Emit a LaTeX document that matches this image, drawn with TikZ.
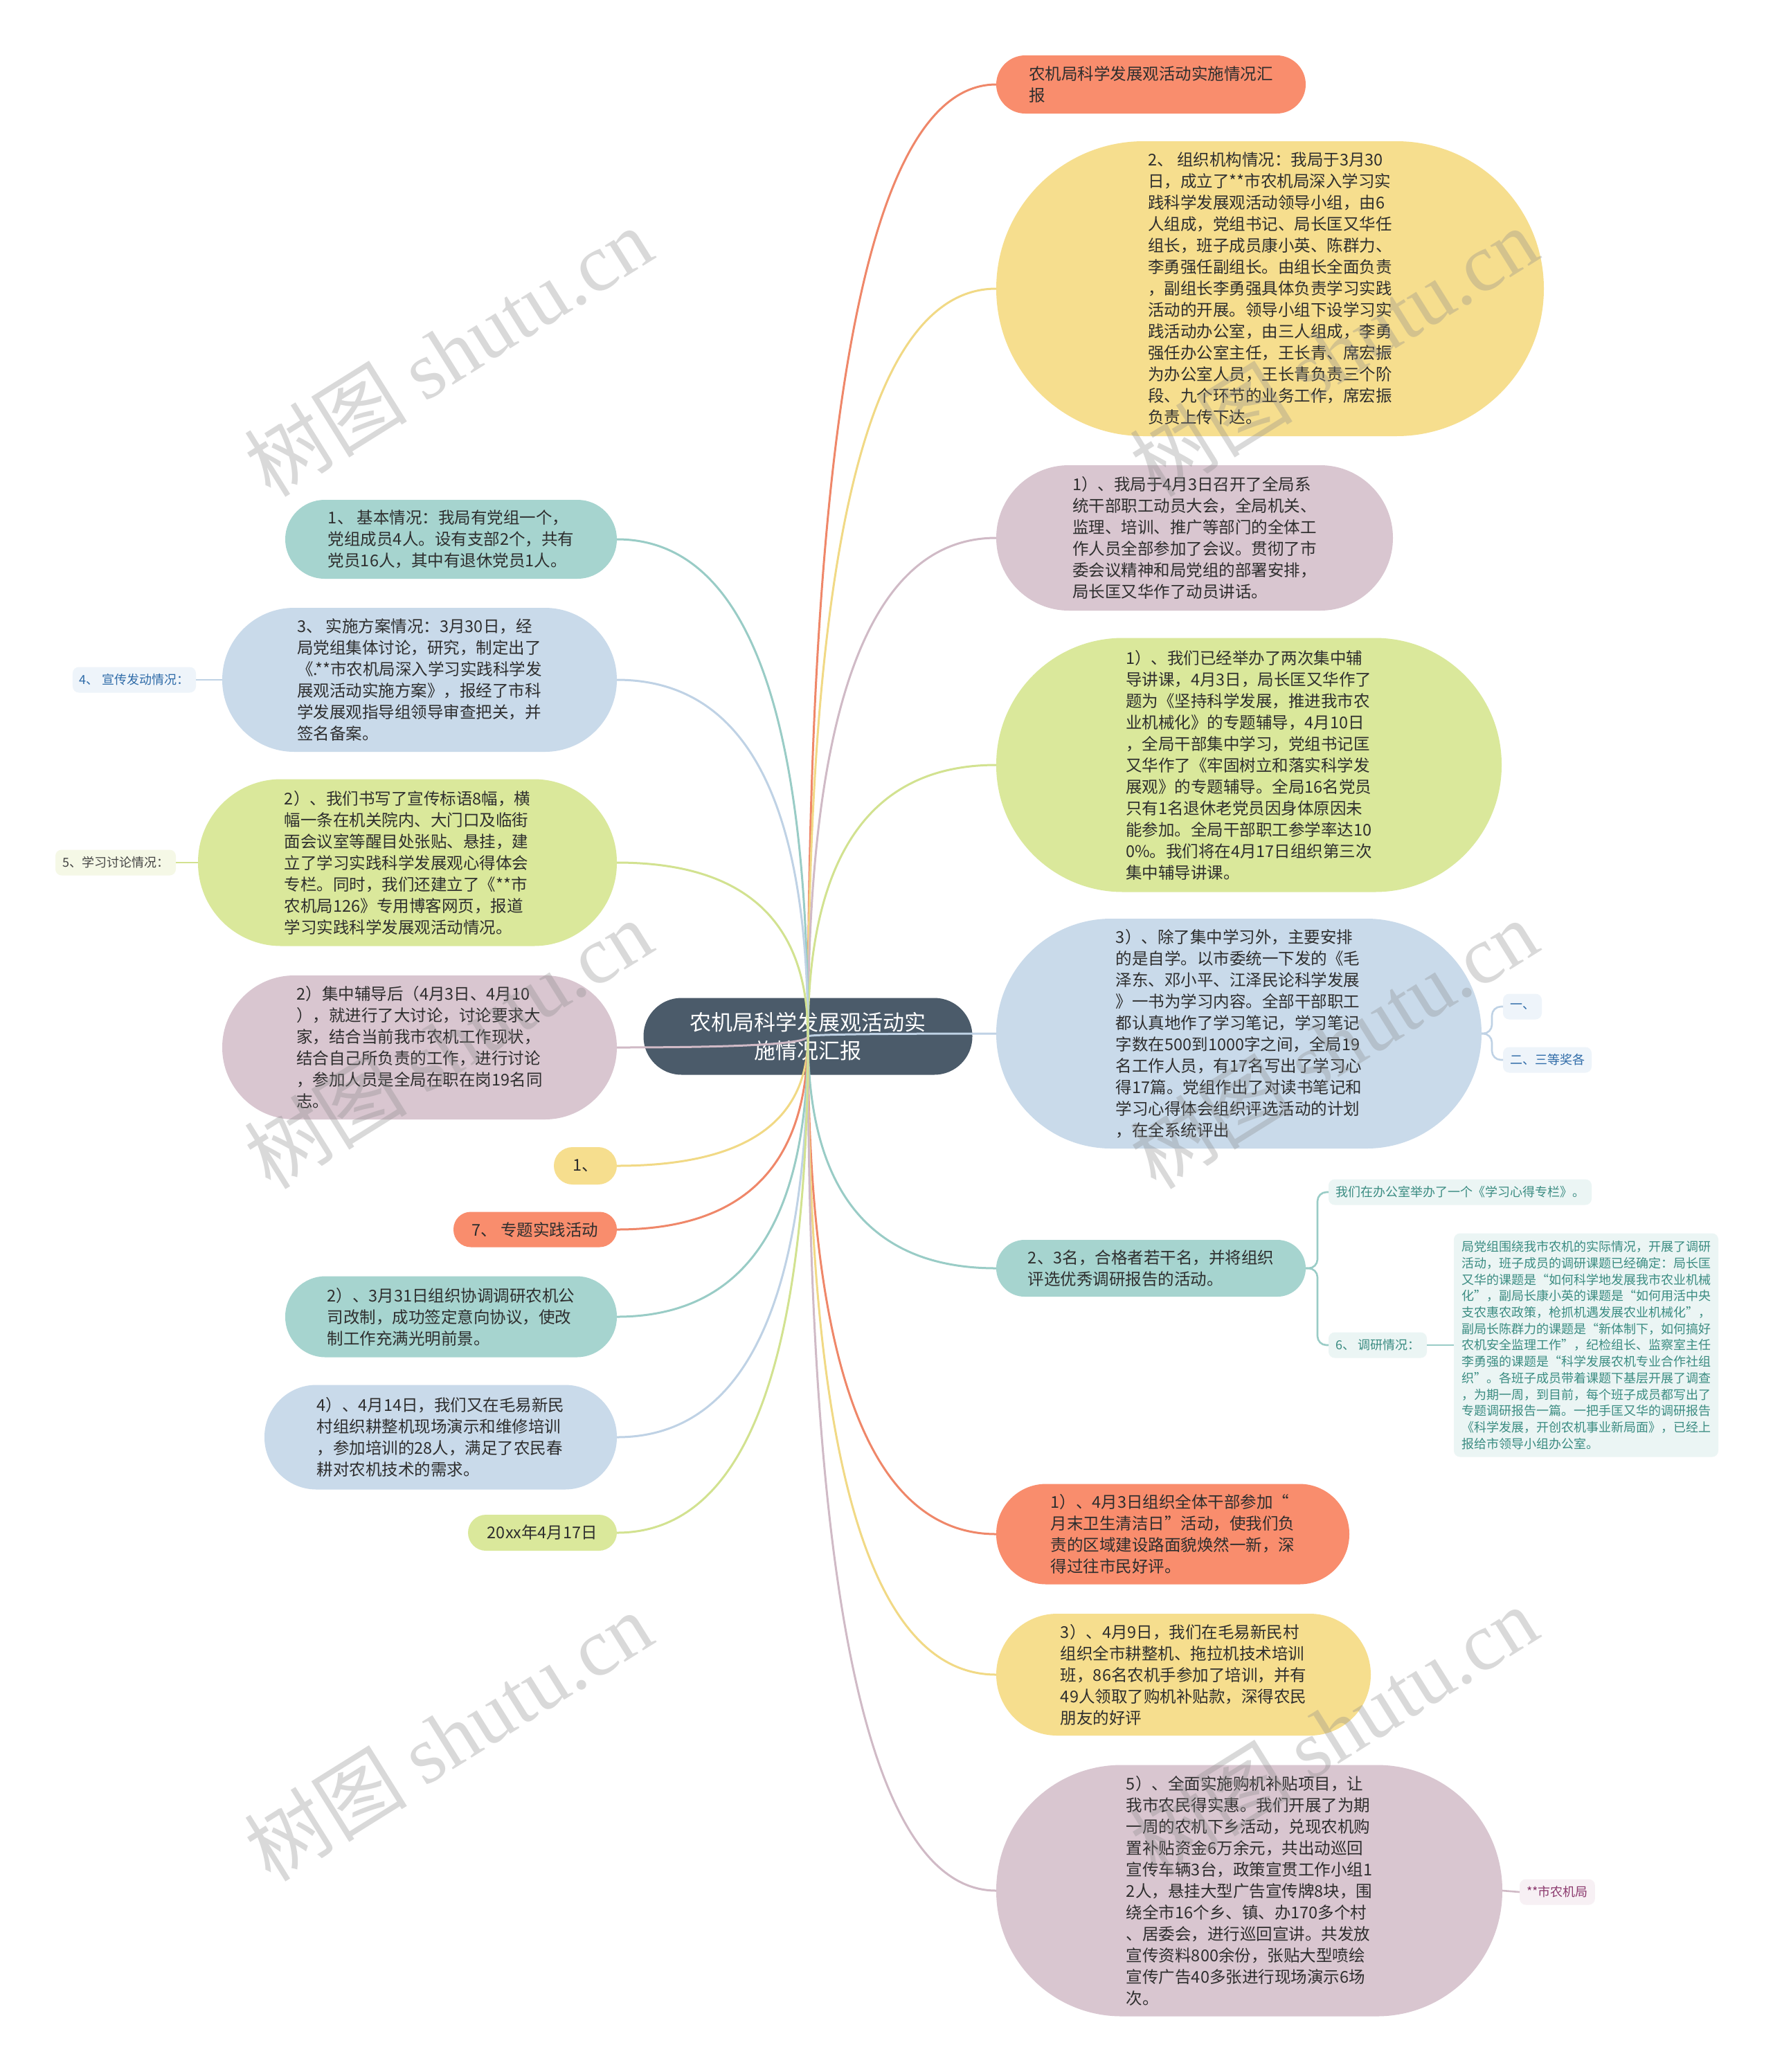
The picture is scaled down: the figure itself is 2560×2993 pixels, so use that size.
\documentclass[tikz,border=0pt]{standalone}
\usepackage{fontspec}
\setmainfont{Noto Sans CJK SC}
\newfontfamily\wmlatin{Liberation Serif}
\usetikzlibrary{calc}

\definecolor{rootc}{HTML}{4B5B6A}
\definecolor{coral}{HTML}{F98D6D}
\definecolor{coralL}{HTML}{EF8769}
\definecolor{yel}{HTML}{F6DE8E}
\definecolor{yelL}{HTML}{F1D985}
\definecolor{mauve}{HTML}{D9C6D0}
\definecolor{mauveL}{HTML}{D0BAC6}
\definecolor{grn}{HTML}{DAE89B}
\definecolor{grnL}{HTML}{D2E290}
\definecolor{blu}{HTML}{C9DAEA}
\definecolor{bluL}{HTML}{BFD2E5}
\definecolor{tealc}{HTML}{A6D4CF}
\definecolor{tealL}{HTML}{99CCC6}
\definecolor{txt}{HTML}{2E2E2E}
\definecolor{bluF}{HTML}{EEF4FA}
\definecolor{bluT}{HTML}{2F6BA8}
\definecolor{tealF}{HTML}{EBF5F4}
\definecolor{tealT}{HTML}{3B8C82}
\definecolor{mauveF}{HTML}{F7F0F4}
\definecolor{mauveT}{HTML}{8C3A6E}
\definecolor{grnF}{HTML}{F5F8E6}
\definecolor{grnT}{HTML}{444444}

\tikzset{
  every node/.style={inner sep=0pt, outer sep=0pt},
  pill/.style={rectangle, align=left, text=txt, font=\fontsize{23.5}{31}\selectfont},
  leaf/.style={rectangle, rounded corners=9, inner xsep=10, minimum height=37, align=left, font=\fontsize{18}{24}\selectfont},
  conn/.style={line width=3},
  subconn/.style={line width=2.6, rounded corners=13},
  wm/.style={font=\fontsize{118}{118}\selectfont, text=black!45, text opacity=0.33, rotate=32},
}

\newcommand\rconn[2]{\draw[conn,#2] (root.center) .. controls ($(root.center)!0.667!(root.center|-#1.west)$) and ($(#1.west)!0.667!(root.center|-#1.west)$) .. (#1.west);}
\newcommand\lconn[2]{\draw[conn,#2] (root.center) .. controls ($(root.center)!0.667!(root.center|-#1.east)$) and ($(#1.east)!0.667!(root.center|-#1.east)$) .. (#1.east);}

\begin{document}
\begin{tikzpicture}[x=1pt,y=-1pt]
\useasboundingbox (0,0) rectangle (2560,2993);
\fill[white] (0,0) rectangle (2560,2993);

% root
\node[fill=rootc, text=white, align=center, font=\fontsize{31}{41}\selectfont,
      minimum width=475, minimum height=111, rounded corners=55] (root) at (1167,1497)
      {农机局科学发展观活动实\\施情况汇报};

% right side
\node[pill, fill=coral, minimum width=447, minimum height=84, rounded corners=42, anchor=west] (r1) at (1439,122)
 {农机局科学发展观活动实施情况汇\\报};

\node[pill, fill=yel, minimum width=791, minimum height=426, rounded corners=213, anchor=west] (r2) at (1439,417)
 {2、 组织机构情况：我局于3月30\\
日，成立了**市农机局深入学习实\\
践科学发展观活动领导小组，由6\\
人组成，党组书记、局长匡又华任\\
组长，班子成员康小英、陈群力、\\
李勇强任副组长。由组长全面负责\\
，副组长李勇强具体负责学习实践\\
活动的开展。领导小组下设学习实\\
践活动办公室，由三人组成，李勇\\
强任办公室主任，王长青、席宏振\\
为办公室人员，王长青负责三个阶\\
段、九个环节的业务工作，席宏振\\
负责上传下达。};

\node[pill, fill=mauve, minimum width=573, minimum height=210, rounded corners=105, anchor=west] (r3) at (1439,777)
 {1）、我局于4月3日召开了全局系\\
统干部职工动员大会，全局机关、\\
监理、培训、推广等部门的全体工\\
作人员全部参加了会议。贯彻了市\\
委会议精神和局党组的部署安排，\\
局长匡又华作了动员讲话。};

\node[pill, fill=grn, minimum width=730, minimum height=367, rounded corners=183, anchor=west] (r4) at (1439,1105)
 {1）、我们已经举办了两次集中辅\\
导讲课，4月3日，局长匡又华作了\\
题为《坚持科学发展，推进我市农\\
业机械化》的专题辅导，4月10日\\
，全局干部集中学习，党组书记匡\\
又华作了《牢固树立和落实科学发\\
展观》的专题辅导。全局16名党员\\
只有1名退休老党员因身体原因未\\
能参加。全局干部职工参学率达10\\
0\%。我们将在4月17日组织第三次\\
集中辅导讲课。};

\node[pill, fill=blu, minimum width=701, minimum height=332, rounded corners=166, anchor=west] (r5) at (1439,1493)
 {3）、除了集中学习外，主要安排\\
的是自学。以市委统一下发的《毛\\
泽东、邓小平、江泽民论科学发展\\
》一书为学习内容。全部干部职工\\
都认真地作了学习笔记，学习笔记\\
字数在500到1000字之间，全局19\\
名工作人员，有17名写出了学习心\\
得17篇。党组作出了对读书笔记和\\
学习心得体会组织评选活动的计划\\
，在全系统评出};

\node[pill, fill=tealc, minimum width=447, minimum height=82, rounded corners=41, anchor=west] (r6) at (1439,1832)
 {2、3名，合格者若干名，并将组织\\
评选优秀调研报告的活动。};

\node[pill, fill=coral, minimum width=510, minimum height=145, rounded corners=72, anchor=west] (r7) at (1439,2216)
 {1）、4月3日组织全体干部参加“\\
月末卫生清洁日”活动，使我们负\\
责的区域建设路面貌焕然一新，深\\
得过往市民好评。};

\node[pill, fill=yel, minimum width=541, minimum height=176, rounded corners=88, anchor=west] (r8) at (1439,2419)
 {3）、4月9日，我们在毛易新民村\\
组织全市耕整机、拖拉机技术培训\\
班，86名农机手参加了培训，并有\\
49人领取了购机补贴款，深得农民\\
朋友的好评};

\node[pill, fill=mauve, minimum width=731, minimum height=363, rounded corners=181, anchor=west] (r9) at (1439,2731)
 {5）、全面实施购机补贴项目，让\\
我市农民得实惠。我们开展了为期\\
一周的农机下乡活动，兑现农机购\\
置补贴资金6万余元，共出动巡回\\
宣传车辆3台，政策宣贯工作小组1\\
2人，悬挂大型广告宣传牌8块，围\\
绕全市16个乡、镇、办170多个村\\
、居委会，进行巡回宣讲。共发放\\
宣传资料800余份，张贴大型喷绘\\
宣传广告40多张进行现场演示6场\\
次。};

% left side
\node[pill, fill=tealc, minimum width=479, minimum height=114, rounded corners=57, anchor=east] (l1) at (891,779)
 {1、 基本情况：我局有党组一个，\\
党组成员4人。设有支部2个，共有\\
党员16人，其中有退休党员1人。};

\node[pill, fill=blu, minimum width=570, minimum height=208, rounded corners=104, anchor=east] (l2) at (891,982)
 {3、 实施方案情况：3月30日，经\\
局党组集体讨论，研究，制定出了\\
《.**市农机局深入学习实践科学发\\
展观活动实施方案》，报经了市科\\
学发展观指导组领导审查把关，并\\
签名备案。};

\node[pill, fill=grn, minimum width=605, minimum height=241, rounded corners=120, anchor=east] (l3) at (891,1246)
 {2）、我们书写了宣传标语8幅，横\\
幅一条在机关院内、大门口及临街\\
面会议室等醒目处张贴、悬挂，建\\
立了学习实践科学发展观心得体会\\
专栏。同时，我们还建立了《**市\\
农机局126》专用博客网页，报道\\
学习实践科学发展观活动情况。};

\node[pill, fill=mauve, minimum width=570, minimum height=208, rounded corners=104, anchor=east] (l4) at (891,1513)
 {2）集中辅导后（4月3日、4月10\\
），就进行了大讨论，讨论要求大\\
家，结合当前我市农机工作现状，\\
结合自己所负责的工作，进行讨论\\
，参加人员是全局在职在岗19名同\\
志。};

\node[pill, fill=yel, minimum width=91, minimum height=54, rounded corners=27, anchor=east] (l5) at (891,1684) {1、};

\node[pill, fill=coral, minimum width=236, minimum height=51, rounded corners=25, anchor=east] (l6) at (891,1776) {7、 专题实践活动};

\node[pill, fill=tealc, minimum width=479, minimum height=117, rounded corners=58, anchor=east] (l7) at (891,1902)
 {2）、3月31日组织协调调研农机公\\
司改制，成功签定意向协议，使改\\
制工作充满光明前景。};

\node[pill, fill=blu, minimum width=509, minimum height=151, rounded corners=75, anchor=east] (l8) at (891,2076)
 {4）、4月14日，我们又在毛易新民\\
村组织耕整机现场演示和维修培训\\
，参加培训的28人，满足了农民春\\
耕对农机技术的需求。};

\node[pill, fill=grn, minimum width=215, minimum height=52, rounded corners=26, anchor=east] (l9) at (891,2214) {20xx年4月17日};

% leaves
\node[leaf, fill=bluF, text=bluT, anchor=west] (s1) at (2171,1454) {一、};
\node[leaf, fill=bluF, text=bluT, anchor=west] (s2) at (2171,1531) {二、三等奖各};
\node[leaf, fill=tealF, text=tealT, anchor=west] (s3) at (1919,1722) {我们在办公室举办了一个《学习心得专栏》。};
\node[leaf, fill=tealF, text=tealT, anchor=west] (s4) at (1919,1943) {6、 调研情况：};
\node[rectangle, rounded corners=9, fill=tealF, text=tealT, anchor=west, align=left,
      minimum width=382, minimum height=323, font=\fontsize{18}{23.7}\selectfont] (s5) at (2100,1943)
 {局党组围绕我市农机的实际情况，开展了调研\\
活动，班子成员的调研课题已经确定：局长匡\\
又华的课题是“如何科学地发展我市农业机械\\
化”，副局长康小英的课题是“如何用活中央\\
支农惠农政策，枪抓机遇发展农业机械化”，\\
副局长陈群力的课题是“新体制下，如何搞好\\
农机安全监理工作”，纪检组长、监察室主任\\
李勇强的课题是“科学发展农机专业合作社组\\
织”。各班子成员带着课题下基层开展了调查\\
，为期一周，到目前，每个班子成员都写出了\\
专题调研报告一篇。一把手匡又华的调研报告\\
《科学发展，开创农机事业新局面》，已经上\\
报给市领导小组办公室。};
\node[leaf, fill=mauveF, text=mauveT, anchor=west] (s6) at (2195,2733) {**市农机局};
\node[leaf, fill=bluF, text=bluT, anchor=east] (s7) at (283,982) {4、 宣传发动情况：};
\node[leaf, fill=grnF, text=grnT, anchor=east] (s8) at (254,1246) {5、学习讨论情况：};

% connectors from root
\rconn{r1}{coralL}
\rconn{r2}{yelL}
\rconn{r3}{mauveL}
\rconn{r4}{grnL}
\rconn{r5}{bluL}
\rconn{r6}{tealL}
\rconn{r7}{coralL}
\rconn{r8}{yelL}
\rconn{r9}{mauveL}
\lconn{l1}{tealL}
\lconn{l2}{bluL}
\lconn{l3}{grnL}
\lconn{l4}{mauveL}
\lconn{l5}{yelL}
\lconn{l6}{coralL}
\lconn{l7}{tealL}
\lconn{l8}{bluL}
\lconn{l9}{grnL}

% sub connectors
\draw[subconn, bluL] (r5.east) -- ++(15,0) |- (s1.west);
\draw[subconn, bluL] (r5.east) -- ++(15,0) |- (s2.west);
\draw[subconn, tealL] (r6.east) -- ++(17,0) |- (s3.west);
\draw[subconn, tealL] (r6.east) -- ++(17,0) |- (s4.west);
\draw[subconn, tealL] (s4.east) -- (s5.west);
\draw[subconn, mauveL] (r9.east) -- (s6.west);
\draw[subconn, bluL] (l2.west) -- (s7.east);
\draw[subconn, grnL] (l3.west) -- (s8.east);

% watermarks
\node[wm] (wm1) at (647,508) {树图 {\wmlatin shutu.cn}};
\node[wm] (wm2) at (647,1508) {树图 {\wmlatin shutu.cn}};
\node[wm] (wm3) at (647,2508) {树图 {\wmlatin shutu.cn}};
\node[wm] (wm4) at (1926,508) {树图 {\wmlatin shutu.cn}};
\node[wm] (wm5) at (1926,1508) {树图 {\wmlatin shutu.cn}};
\node[wm] (wm6) at (1926,2500) {树图 {\wmlatin shutu.cn}};
\end{tikzpicture}
\end{document}
